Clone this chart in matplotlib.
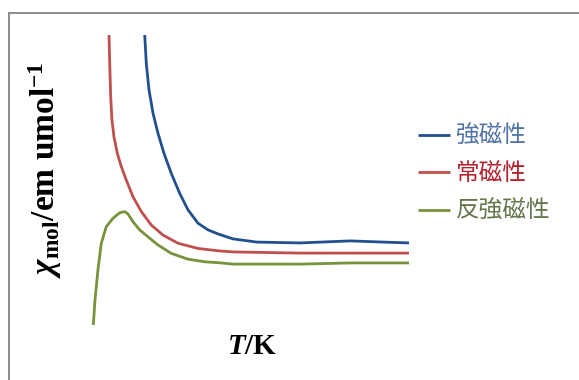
import matplotlib
matplotlib.use("Agg")
import matplotlib.pyplot as plt
from matplotlib.lines import Line2D

plt.rcParams['mathtext.fontset'] = 'custom'
plt.rcParams['mathtext.rm'] = 'Liberation Serif:bold'
plt.rcParams['mathtext.bf'] = 'Liberation Serif:bold'
plt.rcParams['mathtext.it'] = 'Liberation Serif:italic:bold'

# susceptibility vs temperature (arbitrary units)
para_T = [15.2, 15.9, 16.8, 18.0, 19.9, 23.1, 26.9, 31.6, 38.0, 45.9, 55.3, 66.5, 80.7,
          99.7, 118.7, 132.9, 196.5, 300]
para_chi = [10.0, 9.02, 7.87, 7.07, 6.49, 5.92, 5.46, 5.00, 4.42, 3.91, 3.45, 3.10, 2.82,
            2.64, 2.56, 2.52, 2.48, 2.48]

ferro_T = [49.1, 50.6, 53.2, 57.0, 61.7, 67.4, 74.3, 82.3, 90.2, 99.7, 109.2, 118.7, 132.9,
           155.4, 196.5, 244.0, 275.3, 300]
ferro_chi = [10.0, 9.02, 8.10, 7.30, 6.61, 5.92, 5.23, 4.54, 3.97, 3.51, 3.28, 3.14, 2.97,
             2.86, 2.83, 2.90, 2.86, 2.83]

antiferro_T = [0.3, 1.9, 4.7, 7.9, 12.6, 19.0, 25.3, 30.1, 33.2, 38.0, 44.3, 52.2, 61.7,
               74.3, 90.2, 106.0, 118.7, 132.9, 196.5, 244.0, 300]
antiferro_chi = [0.0, 0.86, 1.90, 2.82, 3.39, 3.68, 3.87, 3.91, 3.83, 3.56, 3.28, 3.04, 2.76,
                 2.47, 2.27, 2.18, 2.15, 2.10, 2.10, 2.14, 2.14]

labels = ['強磁性', '常磁性', '反強磁性']
line_colors = ['#22508f', '#c0504d', '#77933c']
text_colors = ['#5274a6', '#b3202e', '#66764c']

fig = plt.figure(figsize=(5.79, 3.80), dpi=100)
ax = fig.add_axes([0.1606, 0.1447, 0.5458, 0.7632])
series = [(ferro_T, ferro_chi), (para_T, para_chi), (antiferro_T, antiferro_chi)]
for (t, chi), lab, c in zip(series, labels, line_colors):
    ax.plot(t, chi, color=c, lw=2.0, label=lab, clip_on=False,
            solid_joinstyle='round', solid_capstyle='butt')
ax.set_xlim(0, 300)
ax.set_ylim(0, 10)
ax.axis('off')

leg = ax.legend(loc='center left', bbox_to_anchor=(418 / 579, 1 - 174 / 380),
                bbox_transform=fig.transFigure, frameon=False,
                prop={'family': 'Noto Sans CJK JP', 'size': 17},
                handlelength=1.35, handletextpad=0.25, labelspacing=0.62,
                borderpad=0, borderaxespad=0)
for txt, c in zip(leg.get_texts(), text_colors):
    txt.set_color(c)

fig.text(45 / 579, 1 - 170 / 380, r'$\chi_{\mathrm{mol}}$/em umol$^{\mathrm{-1}}$',
         rotation=90, ha='center', va='center', fontsize=24,
         family='Liberation Serif', fontweight='bold')
fig.text(252 / 579, 1 - 347 / 380, r'$T$/K', ha='center', va='center',
         fontsize=21, family='Liberation Serif', fontweight='bold')

# thin grey frame along top and left edges
fig.add_artist(Line2D([9 / 579, 9 / 579], [0, 1 - 13 / 380], color='#8c8c8c', lw=1.4))
fig.add_artist(Line2D([9 / 579, 1], [1 - 13 / 380, 1 - 13 / 380], color='#8c8c8c', lw=1.4))

fig.savefig('out.png', dpi=100)
